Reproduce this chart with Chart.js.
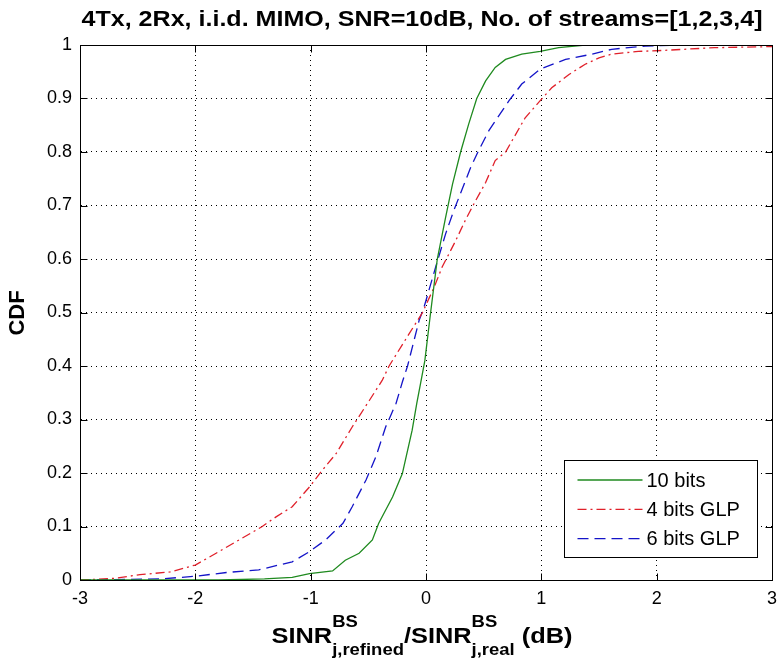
<!DOCTYPE html>
<html lang="en">
<head>
    <meta charset="UTF-8">
    <title>SINR refined / real CDF</title>
    <style>
        html, body {
            margin: 0;
            padding: 0;
            background: #fff;
        }

        .chart-container {
            width: 780px;
            height: 663px;
        }
    </style>
</head>
<body>
    <div class="chart-container">
        <canvas id="myChart" width="780" height="663"></canvas>
    </div>

    <script src="https://cdn.jsdelivr.net/npm/chart.js"></script>
    <script>
        // labels
        const titleText = '4Tx, 2Rx, i.i.d. MIMO, SNR=10dB, No. of streams=[1,2,3,4]';
        const yAxisTitle = 'CDF';
        const seriesNames = ['10 bits', '4 bits GLP', '6 bits GLP'];

        // tick values and labels
        const xTicks = [-3, -2, -1, 0, 1, 2, 3];
        const xTickLabels = ['-3', '-2', '-1', '0', '1', '2', '3'];
        const yTicks = [0, 0.1, 0.2, 0.3, 0.4, 0.5, 0.6, 0.7, 0.8, 0.9, 1];
        const yTickLabels = ['0', '0.1', '0.2', '0.3', '0.4', '0.5', '0.6', '0.7', '0.8', '0.9', '1'];

        // 10 bits (green, solid)
        const x10bits = [-3, -1.8, -1.4, -1.16, -1.01, -0.81, -0.70, -0.58, -0.465, -0.41, -0.29, -0.205, -0.12, -0.08,
            -0.045, -0.01, 0.04, 0.098, 0.17, 0.23, 0.30, 0.37, 0.44, 0.517, 0.60, 0.69, 0.83, 0.99, 1.15, 1.38, 3];
        const y10bits = [0, 0, 0.002, 0.005, 0.012, 0.017, 0.037, 0.05, 0.075, 0.106, 0.155, 0.199, 0.28, 0.33,
            0.37, 0.41, 0.50, 0.60, 0.678, 0.74, 0.80, 0.852, 0.90, 0.933, 0.958, 0.973, 0.983, 0.988, 0.995, 1, 1];

        // 4 bits GLP (red, dash-dot)
        const x4bits = [-3, -2.7, -2.48, -2.22, -2.0, -1.82, -1.62, -1.42, -1.30, -1.16, -1.01, -0.90, -0.78, -0.64,
            -0.49, -0.38, -0.32, -0.147, -0.03, 0.07, 0.14, 0.257, 0.34, 0.43, 0.517, 0.60, 0.69, 0.86, 0.99, 1.09,
            1.24, 1.38, 1.50, 1.61, 1.84, 2.07, 2.5, 3];
        const y4bits = [0, 0.003, 0.01, 0.015, 0.028, 0.05, 0.075, 0.10, 0.118, 0.137, 0.174, 0.205, 0.236, 0.286,
            0.336, 0.373, 0.40, 0.46, 0.50, 0.547, 0.585, 0.634, 0.672, 0.709, 0.743, 0.784, 0.80, 0.864, 0.896, 0.92,
            0.945, 0.964, 0.976, 0.983, 0.988, 0.99, 0.995, 0.997];

        // 6 bits GLP (blue, dashed)
        const x6bits = [-3, -2.3, -2.0, -1.73, -1.45, -1.16, -1.01, -0.87, -0.72, -0.64, -0.52, -0.435, -0.35, -0.26,
            -0.205, -0.16, -0.06, -0.017, 0.084, 0.17, 0.24, 0.32, 0.387, 0.45, 0.545, 0.72, 0.83, 0.99, 1.21, 1.44,
            1.61, 1.90, 2.2, 3];
        const y6bits = [0, 0.002, 0.007, 0.014, 0.019, 0.034, 0.053, 0.075, 0.106, 0.137, 0.187, 0.23, 0.286, 0.33,
            0.37, 0.40, 0.485, 0.51, 0.585, 0.647, 0.69, 0.734, 0.771, 0.80, 0.84, 0.896, 0.927, 0.955, 0.973, 0.983,
            0.992, 0.998, 1, 1];

        const FONT = "'Liberation Sans', Arial, sans-serif";
        Chart.defaults.font.family = FONT;
        Chart.defaults.color = '#000';

        function toPoints(xs, ys) {
            return xs.map((v, i) => ({ x: v, y: ys[i] }));
        }

        // draws the matlab style box, inward ticks, legend and the axis labels
        const matlabDecor = {
            id: 'matlabDecor',
            afterDraw(chart) {
                const ctx = chart.ctx;
                const ca = chart.chartArea;
                const xs = chart.scales.x;
                const ys = chart.scales.y;
                const L = Math.round(ca.left) + 0.5, R = Math.round(ca.right) + 0.5;
                const T = Math.round(ca.top) + 0.5, B = Math.round(ca.bottom) + 0.5;

                ctx.save();
                ctx.strokeStyle = '#000';
                ctx.lineWidth = 1;
                ctx.setLineDash([]);
                ctx.strokeRect(L, T, R - L, B - T);

                // inward ticks
                ctx.beginPath();
                xTicks.forEach(v => {
                    const px = Math.round(xs.getPixelForValue(v)) + 0.5;
                    ctx.moveTo(px, B); ctx.lineTo(px, B - 7);
                    ctx.moveTo(px, T); ctx.lineTo(px, T + 7);
                });
                yTicks.forEach(v => {
                    const py = Math.round(ys.getPixelForValue(v)) + 0.5;
                    ctx.moveTo(L, py); ctx.lineTo(L + 7, py);
                    ctx.moveTo(R, py); ctx.lineTo(R - 7, py);
                });
                ctx.stroke();

                // legend
                const lgRight = R - 15, lgBottom = B - 23;
                const lgLeft = lgRight - 193, lgTop = lgBottom - 97;
                ctx.fillStyle = '#fff';
                ctx.fillRect(lgLeft, lgTop, lgRight - lgLeft, lgBottom - lgTop);
                ctx.strokeRect(lgLeft, lgTop, lgRight - lgLeft, lgBottom - lgTop);
                ctx.font = '20px ' + FONT;
                ctx.textBaseline = 'middle';
                ctx.textAlign = 'left';
                chart.data.datasets.forEach((ds, i) => {
                    const yy = lgTop + 19.5 + i * 29.3;
                    ctx.beginPath();
                    ctx.strokeStyle = ds.borderColor;
                    ctx.lineWidth = ds.borderWidth;
                    ctx.setLineDash(ds.borderDash || []);
                    ctx.moveTo(lgLeft + 13, yy);
                    ctx.lineTo(lgLeft + 78, yy);
                    ctx.stroke();
                    ctx.fillStyle = '#000';
                    ctx.fillText(ds.label, lgLeft + 82, yy + 1);
                });
                ctx.setLineDash([]);

                // title
                ctx.fillStyle = '#000';
                ctx.font = 'bold 22px ' + FONT;
                ctx.textAlign = 'center';
                ctx.textBaseline = 'alphabetic';
                const tw = ctx.measureText(titleText).width;
                ctx.save();
                ctx.translate(422, 26);
                ctx.scale(681 / tw, 1);
                ctx.fillText(titleText, 0, 0);
                ctx.restore();

                // y axis title
                ctx.save();
                ctx.translate(18, 313);
                ctx.rotate(-Math.PI / 2);
                ctx.font = 'bold 22px ' + FONT;
                ctx.textBaseline = 'middle';
                ctx.fillText(yAxisTitle, 0, 0);
                ctx.restore();

                // x axis title: SINR^BS_{j,refined} / SINR^BS_{j,real} (dB)
                const parts = [
                    { main: 'SINR', sup: 'BS', sub: 'j,refined' },
                    { main: '/SINR', sup: 'BS', sub: 'j,real' },
                    { main: ' (dB)' }
                ];
                const mainFont = 'bold 22px ' + FONT, smallFont = 'bold 16px ' + FONT;
                let total = 0;
                parts.forEach(p => {
                    ctx.font = mainFont;
                    p.wm = ctx.measureText(p.main).width;
                    ctx.font = smallFont;
                    p.ws = p.sup ? Math.max(ctx.measureText(p.sup).width, ctx.measureText(p.sub).width) : 0;
                    total += p.wm + p.ws;
                });
                ctx.save();
                ctx.translate(422, 0);
                ctx.scale(301 / total, 1);
                ctx.textAlign = 'left';
                let cx = -total / 2;
                parts.forEach(p => {
                    ctx.font = mainFont;
                    ctx.fillText(p.main, cx, 643);
                    cx += p.wm;
                    if (p.sup) {
                        ctx.font = smallFont;
                        ctx.fillText(p.sup, cx, 627);
                        ctx.fillText(p.sub, cx, 655);
                        cx += p.ws;
                    }
                });
                ctx.restore();
                ctx.restore();
            }
        };

        const ctx = document.getElementById('myChart').getContext('2d');
        const myChart = new Chart(ctx, {
            type: 'scatter',
            data: {
                datasets: [{
                    label: seriesNames[0],
                    data: toPoints(x10bits, y10bits),
                    borderColor: '#1f8a1f',
                    borderWidth: 1.3,
                    borderDash: []
                }, {
                    label: seriesNames[1],
                    data: toPoints(x4bits, y4bits),
                    borderColor: '#e0202a',
                    borderWidth: 1.3,
                    borderDash: [9, 4, 2, 4]
                }, {
                    label: seriesNames[2],
                    data: toPoints(x6bits, y6bits),
                    borderColor: '#1414c8',
                    borderWidth: 1.3,
                    borderDash: [11, 6]
                }]
            },
            options: {
                responsive: false,
                animation: false,
                devicePixelRatio: 1,
                showLine: true,
                elements: {
                    point: { radius: 0 },
                    line: { tension: 0, fill: false }
                },
                layout: {
                    padding: { top: 45, right: 8, left: 0, bottom: 0 }
                },
                plugins: {
                    legend: { display: false },
                    tooltip: { enabled: false },
                    title: { display: false }
                },
                scales: {
                    x: {
                        type: 'linear',
                        min: -3,
                        max: 3,
                        afterBuildTicks: s => { s.ticks = xTicks.map(v => ({ value: v })); },
                        afterFit: s => {
                            s.height = 83;
                            s.paddingLeft = 0;
                            s.paddingRight = 0;
                        },
                        ticks: {
                            callback: (v, i) => xTickLabels[i],
                            font: { size: 18 },
                            color: '#000',
                            padding: 8,
                            maxRotation: 0,
                            autoSkip: false
                        },
                        grid: { color: '#000', lineWidth: 1, drawTicks: false },
                        border: { display: true, color: '#000', dash: [1, 4] }
                    },
                    y: {
                        type: 'linear',
                        min: 0,
                        max: 1,
                        afterBuildTicks: s => { s.ticks = yTicks.map(v => ({ value: v })); },
                        afterFit: s => {
                            s.width = 80;
                            s.paddingTop = 0;
                            s.paddingBottom = 0;
                        },
                        ticks: {
                            callback: (v, i) => yTickLabels[i],
                            font: { size: 18 },
                            color: '#000',
                            padding: 8,
                            autoSkip: false
                        },
                        grid: { color: '#000', lineWidth: 1, drawTicks: false },
                        border: { display: true, color: '#000', dash: [1, 4] }
                    }
                }
            },
            plugins: [matlabDecor]
        });
    </script>
</body>
</html>
